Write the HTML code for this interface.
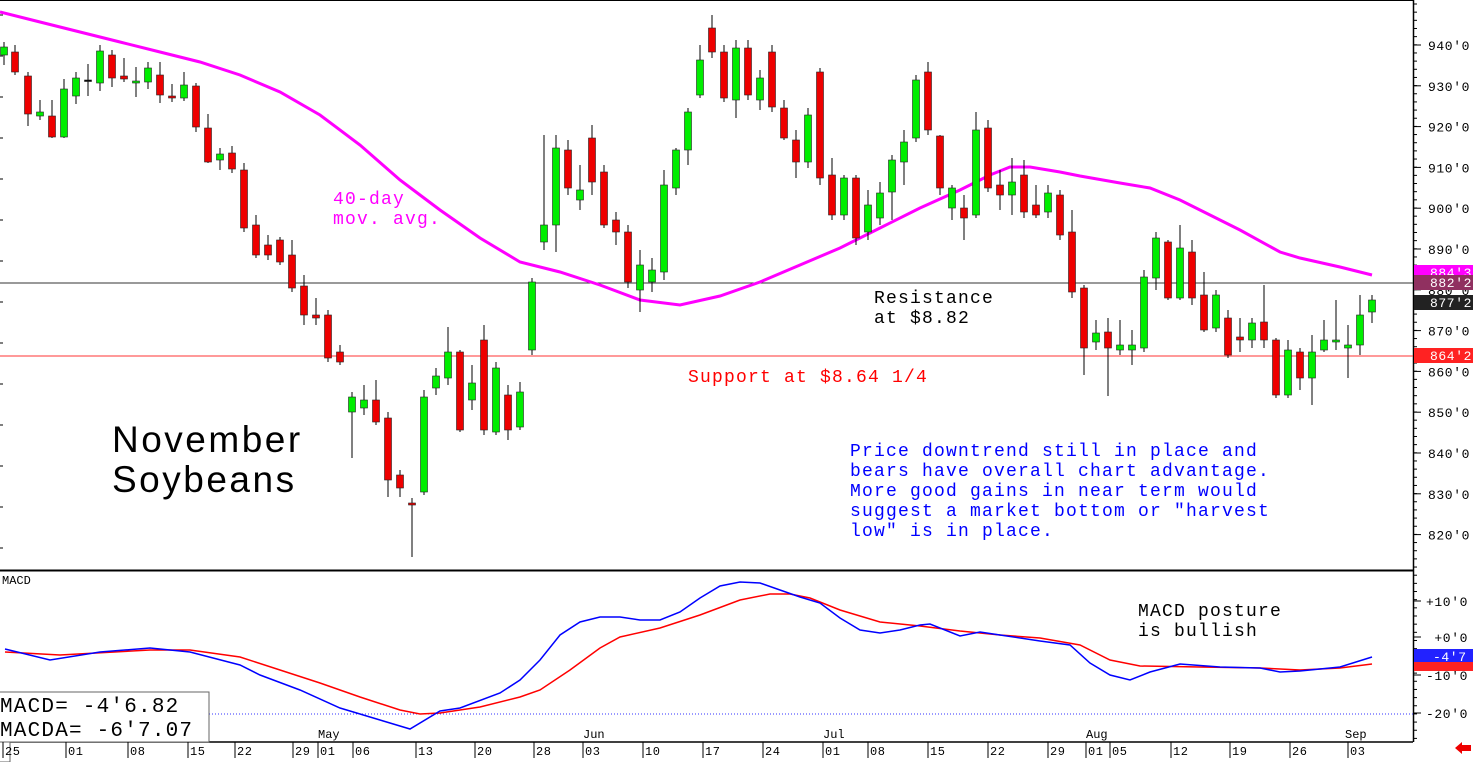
<!DOCTYPE html>
<html><head><meta charset="utf-8"><style>
html,body{margin:0;padding:0;background:#fff;}
svg{display:block;font-family:"Liberation Mono","DejaVu Sans Mono",monospace;}
</style></head><body>
<svg id="s" width="1473" height="762" viewBox="0 0 1473 762" xmlns="http://www.w3.org/2000/svg">
<rect width="1473" height="762" fill="#fff"/>
<g id="g"></g>
</svg>
<script>
const NS="http://www.w3.org/2000/svg";const g=document.getElementById('g');
function el(t,a,txt){const e=document.createElementNS(NS,t);for(const k in a)e.setAttribute(k,a[k]);if(txt!==undefined)e.textContent=txt;g.appendChild(e);return e;}
el('line',{x1:0,y1:0.5,x2:1413,y2:0.5,stroke:'#000','stroke-width':1});
el('line',{x1:0,y1:570.5,x2:1413,y2:570.5,stroke:'#000','stroke-width':2});
el('line',{x1:0,y1:742,x2:1413,y2:742,stroke:'#000','stroke-width':1.5});
el('line',{x1:1413.5,y1:0,x2:1413.5,y2:742,stroke:'#000','stroke-width':1.5});
for(let y=4;y<742;y+=8.16){el('line',{x1:1413,y1:y,x2:1417,y2:y,stroke:'#000'});}
for(let i=0;i<=12;i++){let y=45+i*40.8;if(y>565)break;el('line',{x1:1413,y1:y,x2:1421,y2:y,stroke:'#000'});el('text',{x:1428,y:y+5,'font-size':13,fill:'#000','letter-spacing':0.6},(940-i*10)+"'0");}
[[601,'+10\'0'],[637,'+0\'0'],[675,'-10\'0'],[713,'-20\'0']].forEach(a=>{el('line',{x1:1413,y1:a[0],x2:1421,y2:a[0],stroke:'#000'});el('text',{x:1468,y:a[0]+5,'font-size':13,fill:'#000','text-anchor':'end','letter-spacing':0.6},a[1]);});
for(let i=0;i<14;i++){el('line',{x1:0,y1:15+i*41,x2:3,y2:15+i*41,stroke:'#000'});}
el('line',{x1:0,y1:283,x2:1413,y2:283,stroke:'#333','stroke-width':1});
el('line',{x1:0,y1:356,x2:1413,y2:356,stroke:'#f33','stroke-width':1});
el('line',{x1:200,y1:714,x2:1413,y2:714,stroke:'#33f','stroke-width':1,'stroke-dasharray':'1,2'});
const ma=[[0,12],[40,22],[80,32],[120,42],[160,52],[200,62],[240,75],[280,92],[320,115],[360,145],[400,180],[420,195],[440,210],[480,238],[520,262],[560,272],[600,285],[640,300],[680,305],[720,296],[760,282],[800,265],[840,248],[880,228],[920,208],[960,190],[990,175],[1010,167],[1030,167],[1060,172],[1080,176],[1120,183],[1150,188],[1180,200],[1200,210],[1240,230],[1280,252],[1300,258],[1340,267],[1372,275]];
el('polyline',{points:ma.map(p=>p.join(',')).join(' '),fill:'none',stroke:'#f0f','stroke-width':3});
const C=[[4,47,55,42,65,'g'],[15,52,72,45,75,'r'],[28,76,114,72,126,'r'],[40,112,116,100,120,'g'],[52,116,137,100,138,'r'],[64,89,137,79,138,'g'],[76,78,96,72,104,'g'],[88,80,81,64,96,'k'],[100,51,83,45,91,'g'],[112,55,78,50,87,'r'],[124,76,79,58,82,'r'],[136,81,83,67,97,'g'],[148,68,82,62,89,'g'],[160,75,95,62,103,'r'],[172,96,98,84,102,'r'],[184,85,98,72,101,'g'],[196,86,127,83,132,'r'],[208,128,162,114,163,'r'],[220,154,160,148,170,'g'],[232,153,169,146,173,'r'],[244,170,228,163,232,'r'],[256,225,255,215,258,'r'],[268,245,255,235,260,'r'],[280,240,262,237,265,'r'],[292,255,288,240,292,'r'],[304,286,315,275,325,'r'],[316,315,318,298,325,'r'],[328,315,358,310,362,'r'],[340,352,362,345,365,'r'],[352,397,412,392,458,'g'],[364,400,408,385,415,'g'],[376,400,422,380,425,'r'],[388,418,480,412,497,'r'],[400,475,488,470,497,'r'],[412,503,505,498,557,'r'],[424,397,492,390,495,'g'],[436,376,388,368,395,'g'],[448,352,378,327,385,'g'],[460,352,430,350,432,'r'],[472,383,400,365,410,'g'],[484,340,430,325,435,'r'],[496,368,432,362,435,'g'],[508,395,430,385,440,'r'],[520,392,427,382,430,'g'],[532,282,350,278,355,'g'],[544,225,242,135,250,'g'],[556,148,225,135,252,'g'],[568,150,188,140,195,'r'],[580,190,200,165,210,'g'],[592,138,182,125,195,'r'],[604,172,225,165,228,'r'],[616,220,232,212,245,'r'],[628,232,282,225,288,'r'],[640,265,290,250,312,'g'],[652,270,282,258,292,'g'],[664,185,272,170,280,'g'],[676,150,188,148,195,'g'],[688,112,150,108,165,'g'],[700,60,95,45,98,'g'],[712,28,52,15,58,'r'],[724,52,98,45,102,'r'],[736,48,100,40,118,'g'],[748,48,95,40,100,'r'],[760,78,100,70,110,'g'],[772,52,107,45,112,'r'],[784,108,138,100,140,'r'],[796,140,162,130,178,'r'],[808,115,162,108,168,'g'],[820,72,178,68,185,'r'],[832,175,215,158,220,'r'],[844,178,215,175,220,'g'],[856,178,238,175,245,'r'],[868,205,232,190,240,'g'],[880,193,218,182,225,'g'],[892,160,192,155,220,'g'],[904,142,162,130,185,'g'],[916,80,138,75,142,'g'],[928,72,130,62,135,'r'],[940,136,188,135,195,'r'],[952,188,208,185,220,'g'],[964,208,218,195,240,'r'],[976,130,215,112,218,'g'],[988,128,188,120,192,'r'],[1000,185,195,170,210,'r'],[1012,182,195,158,215,'g'],[1024,175,212,160,218,'r'],[1036,205,215,185,218,'r'],[1048,193,212,185,218,'g'],[1060,195,235,190,240,'r'],[1072,232,292,210,298,'r'],[1084,288,348,285,375,'r'],[1096,333,342,320,350,'g'],[1108,332,348,318,396,'r'],[1120,345,350,320,355,'g'],[1132,345,350,330,365,'g'],[1144,277,348,270,352,'g'],[1156,238,278,232,290,'g'],[1168,242,298,240,300,'r'],[1180,248,298,225,300,'g'],[1192,252,298,240,305,'r'],[1204,295,330,272,332,'r'],[1216,295,328,290,332,'g'],[1228,318,355,310,358,'r'],[1240,337,340,318,352,'r'],[1252,323,340,318,348,'g'],[1264,322,340,285,348,'r'],[1276,340,395,338,398,'r'],[1288,350,395,340,398,'g'],[1300,352,378,348,390,'r'],[1312,352,378,335,405,'g'],[1324,340,350,320,352,'g'],[1336,340,342,300,350,'g'],[1348,345,348,325,378,'g'],[1360,315,345,295,355,'g'],[1372,300,312,295,323,'g']];
C.forEach(c=>{el('line',{x1:c[0],y1:c[3],x2:c[0],y2:c[4],stroke:'#000','stroke-width':1});
 const col=c[5]=='g'?'#0e0':(c[5]=='r'?'#e00':'#000');
 el('rect',{x:c[0]-3.5,y:c[1],width:7,height:Math.max(1.5,c[2]-c[1]),fill:col,stroke:'#222','stroke-width':0.6});});
const blue=[[5,649],[50,660],[100,652],[150,648],[190,652],[240,665],[260,675],[300,690],[340,708],[380,720],[410,729],[440,711],[460,708],[500,693],[520,680],[540,660],[560,635],[580,622],[600,617],[620,617],[640,620],[660,620],[680,612],[700,598],[720,586],[740,582],[760,583],[780,590],[800,597],[820,603],[840,618],[860,630],[880,633],[900,630],[920,625],[930,624],[960,636],[980,632],[1000,635],[1040,641],[1070,645],[1090,663],[1110,675],[1130,680],[1150,672],[1180,664],[1220,667],[1260,668],[1280,672],[1300,671],[1340,667],[1372,657]];
const red=[[5,652],[60,655],[150,650],[190,650],[240,657],[280,670],[320,683],[360,697],[400,710],[420,714],[440,713],[480,707],[520,697],[540,690],[570,670],[600,648],[620,637],[660,628],[700,615],[740,600],[770,594],[790,594],[810,598],[840,610],[880,622],[920,626],[960,631],[1000,635],[1040,638],[1080,645],[1110,660],[1140,666],[1200,667],[1260,668],[1300,670],[1340,668],[1372,664]];
el('polyline',{points:red.map(p=>p.join(',')).join(' '),fill:'none',stroke:'#f00','stroke-width':1.5});
el('polyline',{points:blue.map(p=>p.join(',')).join(' '),fill:'none',stroke:'#00f','stroke-width':1.5});
el('text',{x:2,y:584,'font-size':12,fill:'#000'},'MACD');
el('rect',{x:-1,y:692,width:210,height:50,fill:'#fff',stroke:'#666'});
el('rect',{x:-1,y:742,width:11,height:20,fill:'#fff',stroke:'#666'});
el('text',{x:0,y:712,'font-size':21,fill:'#000','letter-spacing':1.2,'xml:space':'preserve'},"MACD=  -4'6.82");
el('text',{x:0,y:736,'font-size':21,fill:'#000','letter-spacing':1.2},"MACDA= -6'7.07");
[[265,'#f0f','884\'3'],[275,'#903060','882\'2'],[295,'#222','877\'2'],[348,'#f22','864\'2']].forEach(a=>{el('rect',{x:1414,y:a[0],width:59,height:15,fill:a[1]});el('text',{x:1430,y:a[0]+12,'font-size':13,fill:'#fff','letter-spacing':0.6},a[2]);});
el('rect',{x:1414,y:649,width:59,height:13,fill:'#22f'});
el('rect',{x:1414,y:662,width:59,height:9,fill:'#f22'});
el('text',{x:1433,y:661,'font-size':13,fill:'#fff','letter-spacing':0.6},"-4'7");
el('polygon',{points:'1455,748 1462,742 1462,745 1471,745 1471,751 1462,751 1462,754',fill:'#e00'});
const d=[[10,'25'],[73,'01'],[135,'08'],[195,'15'],[242,'22'],[300,'29'],[325,'01'],[360,'06'],[423,'13'],[482,'20'],[541,'28'],[590,'03'],[650,'10'],[710,'17'],[770,'24'],[830,'01'],[875,'08'],[935,'15'],[995,'22'],[1055,'29'],[1093,'01'],[1117,'05'],[1178,'12'],[1237,'19'],[1297,'26'],[1355,'03']];
d.forEach(a=>{el('line',{x1:a[0]-7,y1:742,x2:a[0]-7,y2:758,stroke:'#000'});el('text',{x:a[0]-5,y:755,'font-size':12,fill:'#000','letter-spacing':0.5},a[1]);});
[[318,'May'],[583,'Jun'],[823,'Jul'],[1086,'Aug'],[1345,'Sep']].forEach(a=>el('text',{x:a[0],y:738,'font-size':12,fill:'#000'},a[1]));
const T={'font-size':18,'letter-spacing':1.2};
function tx(x,y,c,t){const a=Object.assign({x:x,y:y,fill:c},T);el('text',a,t);}
tx(333,204,'#f0f','40-day');
tx(333,224,'#f0f','mov. avg.');
tx(874,303,'#000','Resistance');
tx(874,323,'#000','at $8.82');
tx(688,382,'#f00','Support at $8.64 1/4');
el('text',{x:112,y:452,'font-size':37,fill:'#000','font-family':'Liberation Sans, sans-serif','letter-spacing':2.5},'November');
el('text',{x:112,y:492,'font-size':37,fill:'#000','font-family':'Liberation Sans, sans-serif','letter-spacing':2.5},'Soybeans');
['Price downtrend still in place and','bears have overall chart advantage.','More good gains in near term would','suggest a market bottom or "harvest','low" is in place.'].forEach((t,i)=>tx(850,456+i*20,'#00f',t));
tx(1138,616,'#000','MACD posture');
tx(1138,636,'#000','is bullish');
</script>
</body></html>
